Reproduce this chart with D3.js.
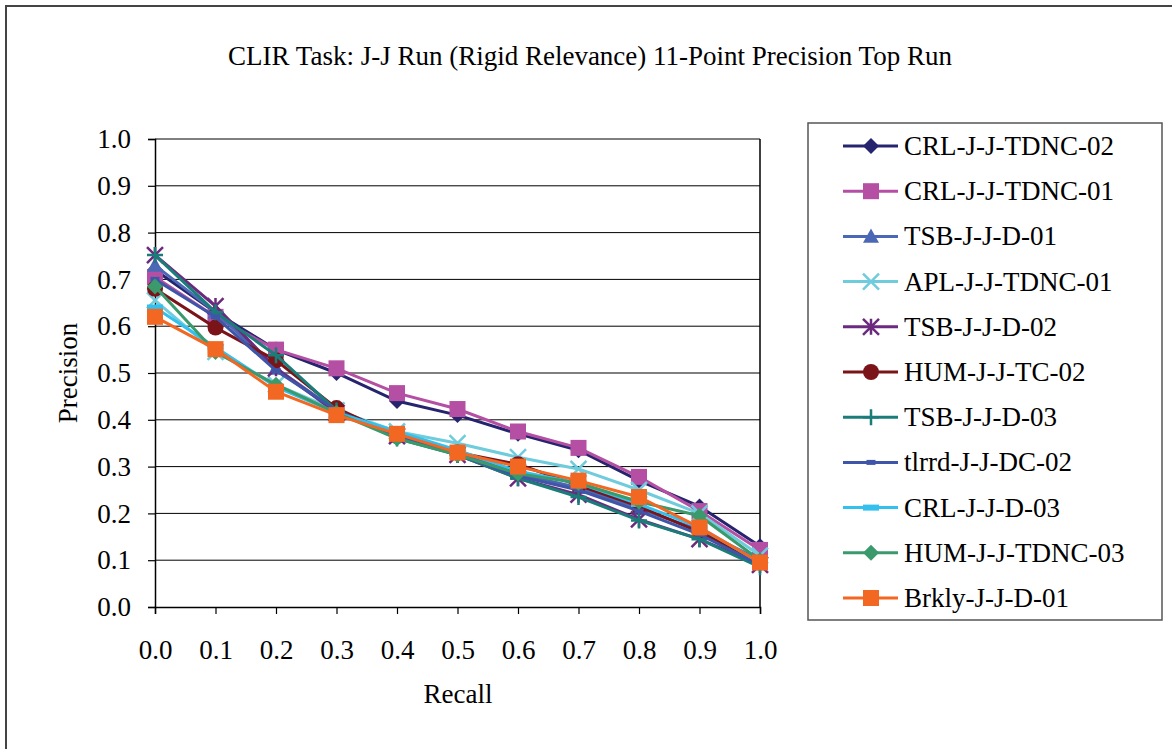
<!DOCTYPE html>
<html><head><meta charset="utf-8">
<script src="https://cdn.jsdelivr.net/npm/d3@7"></script>
<style>body{margin:0;background:#fff}svg{display:block}text{font-family:"Liberation Serif","Times New Roman",serif;fill:#000}</style>
</head><body><svg id="c" width="1172" height="749"></svg>
<script>
const recall = ["0.0","0.1","0.2","0.3","0.4","0.5","0.6","0.7","0.8","0.9","1.0"];
const yTicks = [0,0.1,0.2,0.3,0.4,0.5,0.6,0.7,0.8,0.9,1.0];
const names = ["CRL-J-J-TDNC-02","CRL-J-J-TDNC-01","TSB-J-J-D-01","APL-J-J-TDNC-01","TSB-J-J-D-02","HUM-J-J-TC-02","TSB-J-J-D-03","tlrrd-J-J-DC-02","CRL-J-J-D-03","HUM-J-J-TDNC-03","Brkly-J-J-D-01"];
const crlTdnc02 = [0.72,0.63,0.55,0.50,0.44,0.41,0.37,0.335,0.27,0.215,0.13];
const crlTdnc01 = [0.705,0.62,0.55,0.51,0.457,0.423,0.375,0.34,0.278,0.205,0.122];
const tsbD01 = [0.73,0.63,0.51,0.42,0.37,0.33,0.285,0.255,0.21,0.165,0.10];
const aplTdnc01 = [0.655,0.545,0.475,0.42,0.375,0.35,0.32,0.295,0.25,0.20,0.11];
const tsbD02 = [0.752,0.643,0.51,0.415,0.365,0.325,0.275,0.24,0.187,0.145,0.09];
const humTc02 = [0.68,0.597,0.527,0.425,0.365,0.33,0.305,0.26,0.215,0.16,0.095];
const tsbD03 = [0.752,0.63,0.538,0.42,0.36,0.325,0.275,0.235,0.185,0.145,0.085];
const tlrrdDc02 = [0.70,0.62,0.505,0.42,0.365,0.325,0.28,0.25,0.205,0.155,0.09];
const crlD03 = [0.64,0.555,0.47,0.415,0.375,0.335,0.29,0.265,0.22,0.17,0.095];
const humTdnc03 = [0.685,0.545,0.475,0.415,0.36,0.325,0.285,0.265,0.225,0.195,0.10];
const brklyD01 = [0.62,0.551,0.46,0.41,0.37,0.33,0.30,0.27,0.235,0.17,0.095];
const seriesValues = [crlTdnc02,crlTdnc01,tsbD01,aplTdnc01,tsbD02,humTc02,tsbD03,tlrrdDc02,crlD03,humTdnc03,brklyD01];
const colors = ["#26246E","#B44FA3","#4B68B4","#6FCCDC","#6C2A7F","#7B1419","#1A7D7A","#3F56A8","#33C0EE","#3A9A6C","#F26722"];
const markers = ["diamond","square","triangle","x","star","circle","plus","smalldash","dash","diamond","square"];

const svg = d3.select("#c");
const L=155,R=760,T=139,B=607;
const FS="27px";
const x = d3.scalePoint().domain(recall).range([L,R]);
const y = d3.scaleLinear().domain([0,1]).range([B,T]);

svg.append("rect").attr("x",6).attr("y",6).attr("width",1180).attr("height",760).attr("fill","none").attr("stroke","#444").attr("stroke-width",2);

svg.append("text").attr("x",590).attr("y",65).attr("text-anchor","middle").style("font-size",FS).text("CLIR Task: J-J Run (Rigid Relevance) 11-Point Precision Top Run");

// gridlines
svg.append("g").selectAll("line").data(yTicks.slice(1)).join("line")
  .attr("x1",L).attr("x2",R).attr("y1",d=>y(d)).attr("y2",d=>y(d)).attr("stroke","#000").attr("stroke-width",1);
svg.append("line").attr("x1",R).attr("x2",R).attr("y1",T).attr("y2",B).attr("stroke","#000").attr("stroke-width",1.5);

const yAxis = svg.append("g").attr("transform",`translate(${L},0)`)
  .call(d3.axisLeft(y).tickValues(yTicks).tickFormat(d3.format(".1f")).tickSize(7).tickPadding(17));
const xAxis = svg.append("g").attr("transform",`translate(0,${B})`)
  .call(d3.axisBottom(x).tickSize(7).tickPadding(26));
[yAxis,xAxis].forEach(g=>{
  g.select(".domain").attr("stroke","#000").attr("stroke-width",1.5);
  g.selectAll(".tick line").attr("stroke","#000").attr("stroke-width",1.2);
  g.selectAll("text").style("font-size",FS).style("font-family","'Liberation Serif','Times New Roman',serif").attr("fill","#000");
});

svg.append("text").attr("x",458).attr("y",703).attr("text-anchor","middle").style("font-size",FS).text("Recall");
svg.append("text").attr("transform","translate(77,373) rotate(-90)").attr("text-anchor","middle").style("font-size",FS).text("Precision");

function drawMarker(g, type, color){
  const s=8;
  if(type==="diamond") g.append("path").attr("d",`M0,${-s}L${s},0L0,${s}L${-s},0Z`).attr("fill",color);
  else if(type==="square") g.append("rect").attr("x",-s).attr("y",-s).attr("width",2*s).attr("height",2*s).attr("fill",color);
  else if(type==="triangle") g.append("path").attr("d",`M0,${-s}L${s},${s*0.8}L${-s},${s*0.8}Z`).attr("fill",color);
  else if(type==="circle") g.append("circle").attr("r",s).attr("fill",color);
  else if(type==="x") g.append("path").attr("d",`M${-s},${-s}L${s},${s}M${-s},${s}L${s},${-s}`).attr("stroke",color).attr("stroke-width",2.5);
  else if(type==="star") g.append("path").attr("d",`M${-s},${-s}L${s},${s}M${-s},${s}L${s},${-s}M0,${-s}L0,${s}`).attr("stroke",color).attr("stroke-width",2.5);
  else if(type==="plus") g.append("path").attr("d",`M${-s},0L${s},0M0,${-s}L0,${s}`).attr("stroke",color).attr("stroke-width",2.5);
  else if(type==="smalldash") g.append("rect").attr("x",-4.5).attr("y",-2.5).attr("width",9).attr("height",5).attr("fill",color);
  else if(type==="dash") g.append("rect").attr("x",-s).attr("y",-3).attr("width",2*s).attr("height",6).attr("fill",color);
}

const line = d3.line().x((d,i)=>x(recall[i])).y(d=>y(d));
seriesValues.forEach((vals,k)=>{
  const g = svg.append("g");
  g.append("path").datum(vals).attr("d",line).attr("fill","none").attr("stroke",colors[k]).attr("stroke-width",3);
  vals.forEach((v,i)=>{
    const m = g.append("g").attr("transform",`translate(${x(recall[i])},${y(v)})`);
    drawMarker(m, markers[k], colors[k]);
  });
});

// legend
const lg = svg.append("g");
lg.append("rect").attr("x",808).attr("y",123).attr("width",354).attr("height",497).attr("fill","#fff").attr("stroke","#555").attr("stroke-width",1.5);
names.forEach((n,k)=>{
  const cy = 146 + k*45.2;
  lg.append("line").attr("x1",843).attr("x2",898).attr("y1",cy).attr("y2",cy).attr("stroke",colors[k]).attr("stroke-width",3);
  const m = lg.append("g").attr("transform",`translate(871,${cy})`);
  drawMarker(m, markers[k], colors[k]);
  lg.append("text").attr("x",904).attr("y",cy+9).style("font-size",FS).text(n);
});
</script></body></html>
